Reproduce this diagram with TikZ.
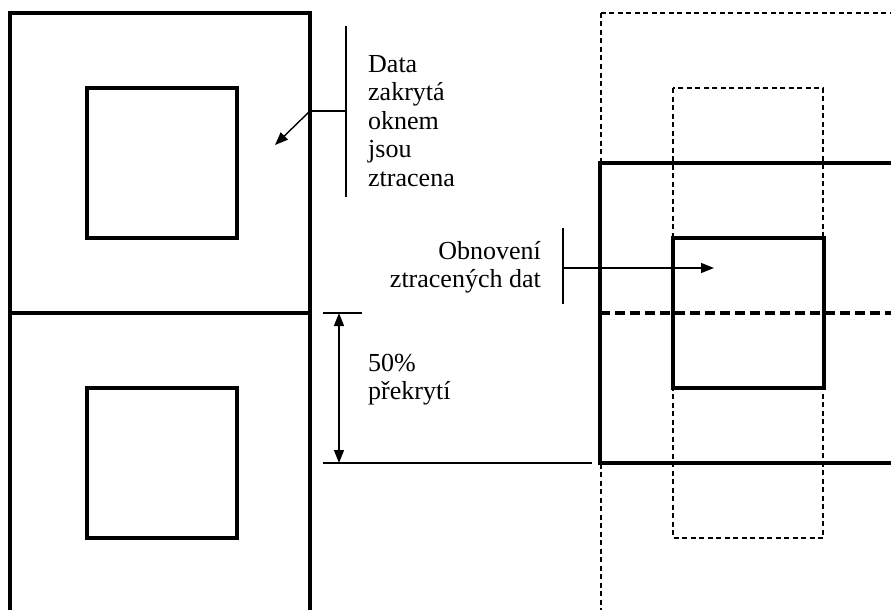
\documentclass[tikz,border=0pt]{standalone}
\usepackage{fontspec}
\setmainfont{Liberation Serif}
\usetikzlibrary{arrows.meta}
\tikzset{
  sq/.style={draw, line width=3.2pt, inner sep=0pt, outer sep=0pt},
  thinln/.style={line width=1.4pt},
  thickln/.style={line width=3.6pt},
  dshthin/.style={line width=1.8pt, dash pattern=on 5pt off 3.5pt},
  dshthick/.style={line width=3.2pt, dash pattern=on 10pt off 5pt},
  tip/.style={-{Triangle[length=13pt,width=10pt]}},
  dtip/.style={{Triangle[length=13pt,width=10pt]}-{Triangle[length=13pt,width=10pt]}},
  lbl/.style={inner sep=0pt, font=\fontsize{26}{28.5}\selectfont}
}
\begin{document}
\begin{tikzpicture}[x=1pt,y=-1pt]
\useasboundingbox (0,0) rectangle (891,610);
\clip (0,0) rectangle (891,610);
% left column
\node[sq, minimum width=300pt, minimum height=300pt] (L1) at (160,163) {};
\node[sq, minimum width=300pt, minimum height=300pt] (L2) at (160,463) {};
\node[sq, minimum width=150pt, minimum height=150pt] (I1) at (162,163) {};
\node[sq, minimum width=150pt, minimum height=150pt] (I2) at (162,463) {};
% label Data
\node[lbl, anchor=north west, align=left] (dtxt) at (368,55) {Data\\zakrytá\\oknem\\jsou\\ztracena};
\coordinate (vt) at (346,26);
\coordinate (vb) at (346,197);
\coordinate (vm) at (346,111);
\coordinate (dj) at (310,111);
\coordinate (dt) at (275,145);
\draw[thinln] (vt) -- (vb);
\draw[thinln] (vm) -- (dj);
\draw[thinln, tip] (dj) -- (dt);
% dimension
\coordinate (tt1) at (323,313);
\coordinate (tt2) at (362,313);
\coordinate (bt1) at (323,463);
\coordinate (bt2) at (592,463);
\coordinate (da) at (339,313);
\coordinate (db) at (339,463);
\draw[thinln] (tt1) -- (tt2);
\draw[thinln] (bt1) -- (bt2);
\draw[thinln, dtip] (da) -- (db);
\node[lbl, anchor=north west, align=left] (ptxt) at (368,354) {50\%\\překrytí};
% right column
\draw[dshthin] (601,13) rectangle (1000,700);
\draw[dshthin] (673,88) rectangle (823,538);
\draw[thickln] (600,163) rectangle (1000,463);
\draw[sq] (673,238) rectangle (824,388);
\coordinate (hl) at (600,313);
\coordinate (hr) at (891,313);
\draw[dshthick] (hl) -- (hr);
% label Obnoveni
\node[lbl, anchor=north east, align=right] (otxt) at (541,241) {Obnovení\\ztracených dat};
\coordinate (ot) at (563,228);
\coordinate (ob) at (563,304);
\coordinate (om) at (563,268);
\coordinate (oa) at (714,268);
\draw[thinln] (ot) -- (ob);
\draw[thinln, tip] (om) -- (oa);
\end{tikzpicture}
\end{document}
